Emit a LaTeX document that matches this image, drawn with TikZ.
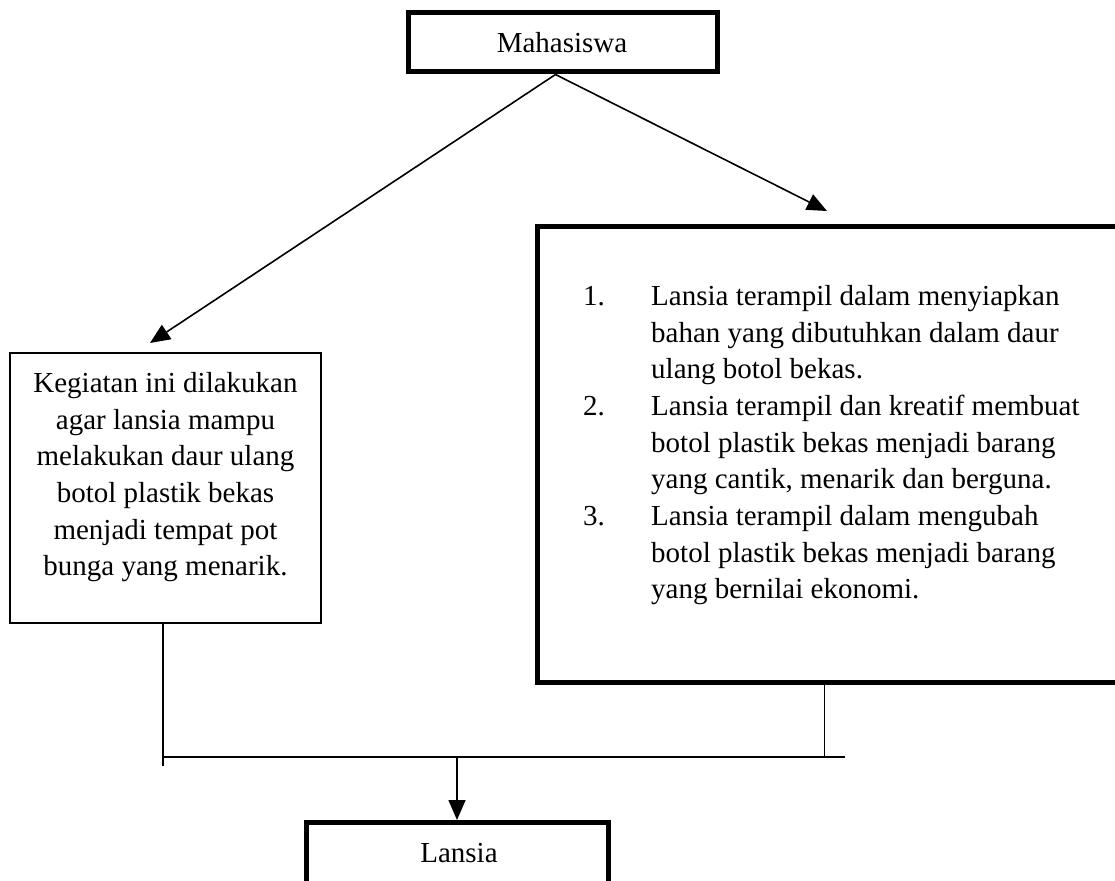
\documentclass[tikz,border=0pt]{standalone}
\usepackage{fontspec}
\setmainfont{Liberation Serif}
\usetikzlibrary{arrows.meta}
\begin{document}
\begin{tikzpicture}[x=1pt,y=-1pt,
 box/.style={draw, line width=5pt, inner sep=0pt, fill=white},
 thinbox/.style={draw, line width=2.4pt, inner sep=0pt, fill=white},
 txt/.style={font=\fontsize{29}{36.7}\selectfont, inner sep=0pt},
 conn/.style={line width=1.6pt},
 arr/.style={conn, -{Triangle[length=20pt,width=17pt]}}]
\useasboundingbox (0,0) rectangle (1115,880);
% boxes
\node[box, minimum width=309pt, minimum height=59pt] (M) at (562.5,42.5) {};
\node[txt, anchor=base] (Mt) at (562,53) {Mahasiswa};
\node[thinbox, minimum width=311pt, minimum height=270pt] (L) at (165.5,488) {};
\node[txt, align=center, anchor=north] (Lt) at (165.5,372) {Kegiatan ini dilakukan\\agar lansia mampu\\melakukan daur ulang\\botol plastik bekas\\menjadi tempat pot\\bunga yang menarik.};
\node[box, minimum width=593pt, minimum height=456pt] (R) at (833.5,454.5) {};
\node[txt, align=left, anchor=north west] (Rt) at (583,285) {%
\makebox[68pt][l]{1.}Lansia terampil dalam menyiapkan\\
\hspace*{68pt}bahan yang dibutuhkan dalam daur\\
\hspace*{68pt}ulang botol bekas.\\
\makebox[68pt][l]{2.}Lansia terampil dan kreatif membuat\\
\hspace*{68pt}botol plastik bekas menjadi barang\\
\hspace*{68pt}yang cantik, menarik dan berguna.\\
\makebox[68pt][l]{3.}Lansia terampil dalam mengubah\\
\hspace*{68pt}botol plastik bekas menjadi barang\\
\hspace*{68pt}yang bernilai ekonomi.};
\node[box, minimum width=302pt, minimum height=107pt] (N) at (457,876) {};
\node[txt, anchor=base] (Nt) at (459,862) {Lansia};
% arrows from Mahasiswa
\coordinate (tl) at (150,343);
\coordinate (tr) at (827,211);
\draw[arr] ([xshift=-7pt]M.south) -- (tl);
\draw[arr] ([xshift=-7pt]M.south) -- (tr);
% junction
\coordinate (hl) at (163,757);
\coordinate (hr) at (845,757);
\draw[conn] (hl) -- (hr);
\draw[conn] (L.south -| hl) -- ([yshift=-9pt]hl);
\draw[conn] ([xshift=290pt]R.south west) -- ([xshift=290pt]R.south west |- hl);
\draw[arr] (N.north |- hl) -- (N.north);
\end{tikzpicture}
\end{document}
